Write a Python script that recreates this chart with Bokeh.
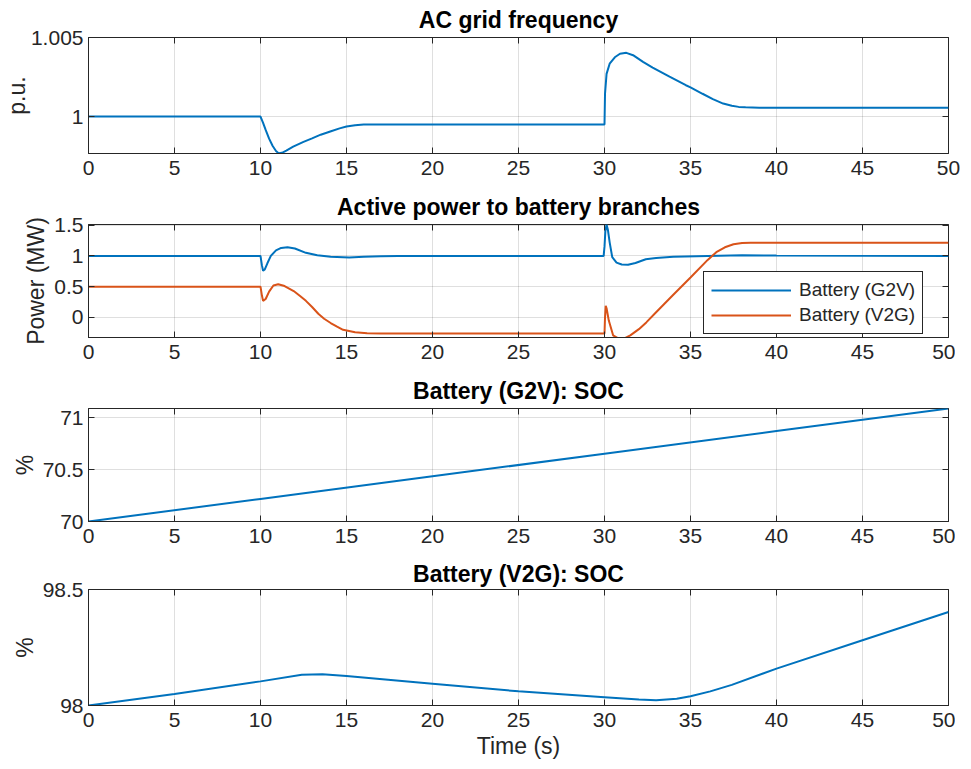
from bokeh.plotting import figure
from bokeh.layouts import column
from bokeh.models import Range1d, LinearAxis, FixedTicker, Legend, LegendItem
from bokeh.embed import file_html
from bokeh.resources import INLINE

FONT = "Liberation Sans"
INK = "#262626"
BLUE = "#0072BD"
ORANGE = "#D95319"

# ---------------- data ----------------
x_ticks = [0, 5, 10, 15, 20, 25, 30, 35, 40, 45, 50]

# AC grid frequency (p.u.)
t_freq = [0.0, 10.0, 10.15, 10.3, 10.5, 10.7, 10.9, 11.05, 11.25, 11.5, 11.9, 12.5, 13.0,
          13.5, 14.1, 14.6, 15.0, 15.5, 16.0, 30.0, 30.03, 30.12, 30.3, 30.6, 30.9, 31.27,
          31.66, 32.24, 32.8, 33.78, 34.73, 35.0, 35.7, 36.3, 36.9, 37.4, 37.8, 38.2, 38.6,
          39.0, 50.0]
freq = [1.0, 1.0, 0.99960, 0.99915, 0.99860, 0.99815, 0.99782, 0.99768, 0.99770, 0.99784,
        0.99809, 0.99840, 0.99862, 0.99885, 0.99907, 0.99925, 0.99937, 0.99945, 0.99949,
        0.99949, 1.00144, 1.00270, 1.00334, 1.00375, 1.00397, 1.00403, 1.00388, 1.00346,
        1.00310, 1.00252, 1.00198, 1.00184, 1.00144, 1.00110, 1.00082, 1.00068, 1.00061,
        1.00058, 1.00057, 1.00056, 1.00056]
freq_yticks = [1.0, 1.005]
freq_ylabels = ["1", "1.005"]

# Active power to battery branches (MW)
t_g2v = [0, 10.0, 10.08, 10.15, 10.25, 10.4, 10.6, 10.9, 11.2, 11.57, 12.0, 12.64, 13.3,
         14.08, 15.16, 16.0, 17.0, 18.0, 29.95, 30.0, 30.05, 30.12, 30.2, 30.3, 30.45, 30.7,
         31.0, 31.37, 31.8, 32.4, 33.0, 33.4, 34.0, 36.0, 38.0, 40.0, 50.0]
p_g2v = [1.0, 1.0, 0.85, 0.76, 0.78, 0.88, 1.0, 1.09, 1.13, 1.14, 1.12, 1.05, 1.01, 0.985,
         0.975, 0.985, 0.995, 1.0, 1.0, 1.15, 1.4, 1.51, 1.42, 1.22, 0.98, 0.89, 0.86, 0.855,
         0.885, 0.945, 0.965, 0.975, 0.985, 1.0, 1.01, 1.005, 1.0]
t_v2g = [0, 10.0, 10.08, 10.15, 10.3, 10.5, 10.75, 11.03, 11.4, 11.93, 12.3, 12.64, 13.0,
         13.36, 13.7, 14.08, 14.45, 14.8, 15.5, 16.2, 17.0, 30.0, 30.03, 30.07, 30.12, 30.25,
         30.5, 30.8, 31.08, 31.5, 32.0, 32.43, 33.0, 34.0, 35.0, 36.0, 36.5, 37.0, 37.5, 38.0,
         38.5, 39.0, 50.0]
p_v2g = [0.5, 0.5, 0.36, 0.27, 0.3, 0.42, 0.52, 0.54, 0.51, 0.43, 0.35, 0.27, 0.17, 0.06,
         -0.02, -0.09, -0.15, -0.2, -0.24, -0.255, -0.26, -0.26, 0.0, 0.19, 0.15, -0.05,
         -0.29, -0.34, -0.35, -0.29, -0.19, -0.08, 0.085, 0.37, 0.65, 0.935, 1.06, 1.14,
         1.19, 1.21, 1.215, 1.215, 1.215]
pow_yticks = [0, 0.5, 1, 1.5]
pow_ylabels = ["0", "0.5", "1", "1.5"]
series_names = ["Battery (G2V)", "Battery (V2G)"]

# Battery (G2V) SOC (%)
t_soc_g2v = [0, 10, 20, 30, 40, 50]
soc_g2v = [70.0, 70.217, 70.435, 70.652, 70.87, 71.087]
socg_yticks = [70, 70.5, 71]
socg_ylabels = ["70", "70.5", "71"]

# Battery (V2G) SOC (%)
t_soc_v2g = [0, 5, 10, 12.4, 13.6, 15, 20, 25, 30, 32, 33, 34.2, 35, 36.15, 37.4, 40, 45, 50]
soc_v2g = [98.0, 98.050, 98.104, 98.133, 98.135, 98.127, 98.094, 98.061, 98.036, 98.026,
           98.023, 98.029, 98.040, 98.061, 98.089, 98.159, 98.281, 98.403]
socv_yticks = [98, 98.5]
socv_ylabels = ["98", "98.5"]

titles = ["AC grid frequency", "Active power to battery branches",
          "Battery (G2V): SOC", "Battery (V2G): SOC"]

# ---------------- helpers ----------------
FRAME_W = 860


def make_fig(title, frame_h, top, bottom, y0, y1, yticks, ylabels, ylabel,
             xlabel=None, ylabel_standoff=2, title_standoff=9):
    p = figure(frame_width=FRAME_W, frame_height=frame_h, x_range=Range1d(0, 50),
               y_range=Range1d(y0, y1), output_backend="svg", toolbar_location=None,
               min_border_left=83, min_border_right=12, min_border_top=top,
               min_border_bottom=bottom)
    p.title.text = title
    p.title.align = "center"
    p.title.text_font = FONT
    p.title.text_font_size = "23px"
    p.title.text_font_style = "bold"
    p.title.text_color = "#000000"
    p.title.standoff = title_standoff
    p.outline_line_color = INK
    p.outline_line_width = 1
    p.outline_line_alpha = 1.0
    p.background_fill_color = "white"
    p.border_fill_color = "white"

    # box ticks on top and right (inside), no labels
    top_ax = LinearAxis(ticker=FixedTicker(ticks=x_ticks))
    right_ax = LinearAxis(ticker=FixedTicker(ticks=yticks))
    p.add_layout(top_ax, "above")
    p.add_layout(right_ax, "right")
    for ax in (top_ax, right_ax):
        ax.major_label_text_font_size = "0px"
        ax.major_label_text_color = None
        ax.major_label_standoff = 0
        ax.axis_line_color = None
        ax.major_tick_in = 6
        ax.major_tick_out = 0
        ax.major_tick_line_color = INK
        ax.minor_tick_line_color = None

    xa = p.below[0]
    xa.ticker = FixedTicker(ticks=x_ticks)
    ya = p.left[0]
    ya.ticker = FixedTicker(ticks=yticks)
    ya.major_label_overrides = {k: v for k, v in zip(yticks, ylabels)}
    for ax in (xa, ya):
        ax.axis_line_color = INK
        ax.major_tick_line_color = INK
        ax.minor_tick_line_color = None
        ax.major_tick_in = 6
        ax.major_tick_out = 0
        ax.major_label_text_font = FONT
        ax.major_label_text_font_size = "21px"
        ax.major_label_text_color = INK
        ax.axis_label_text_font = FONT
        ax.axis_label_text_font_size = "23px"
        ax.axis_label_text_font_style = "normal"
        ax.axis_label_text_color = INK
    xa.major_label_standoff = 7
    ya.major_label_standoff = 5
    ya.axis_label = ylabel
    ya.axis_label_standoff = ylabel_standoff
    if xlabel:
        xa.axis_label = xlabel
        xa.axis_label_standoff = 3

    p.xgrid.ticker = FixedTicker(ticks=x_ticks)
    p.ygrid.ticker = FixedTicker(ticks=yticks)
    p.grid.grid_line_color = INK
    p.grid.grid_line_alpha = 0.15
    p.grid.grid_line_width = 1
    return p


# ---------------- figures ----------------
p1 = make_fig(titles[0], 116, 37, 34, 0.99766, 1.005,
              freq_yticks, freq_ylabels, "p.u.", ylabel_standoff=-2)
p1.line(t_freq, freq, line_color=BLUE, line_width=2)

p2 = make_fig(titles[1], 113, 37, 34, -0.325, 1.51,
              pow_yticks, pow_ylabels, "Power (MW)")
r_g = p2.line(t_g2v, p_g2v, line_color=BLUE, line_width=2)
r_v = p2.line(t_v2g, p_v2g, line_color=ORANGE, line_width=2)
legend = Legend(items=[LegendItem(label=series_names[0], renderers=[r_g]),
                       LegendItem(label=series_names[1], renderers=[r_v])],
                location=(615, 3))
legend.label_text_font = FONT
legend.label_text_font_size = "19px"
legend.label_text_color = INK
legend.glyph_width = 80
legend.glyph_height = 20
legend.label_height = 20
legend.label_standoff = 8
legend.padding = 7
legend.spacing = 3
legend.margin = 0
legend.border_line_color = INK
legend.border_line_width = 1
legend.border_line_alpha = 1.0
legend.background_fill_color = "white"
legend.background_fill_alpha = 1.0
p2.add_layout(legend)

p3 = make_fig(titles[2], 113, 37, 34, 70.0, 71.087,
              socg_yticks, socg_ylabels, "%")
p3.line(t_soc_g2v, soc_g2v, line_color=BLUE, line_width=2)

p4 = make_fig(titles[3], 116, 34, 58, 98.0, 98.5,
              socv_yticks, socv_ylabels, "%", xlabel="Time (s)", title_standoff=6)
p4.line(t_soc_v2g, soc_v2g, line_color=BLUE, line_width=2)

layout = column(p1, p2, p3, p4, spacing=0)

with open("out.html", "w") as f:
    f.write(file_html(layout, INLINE))
